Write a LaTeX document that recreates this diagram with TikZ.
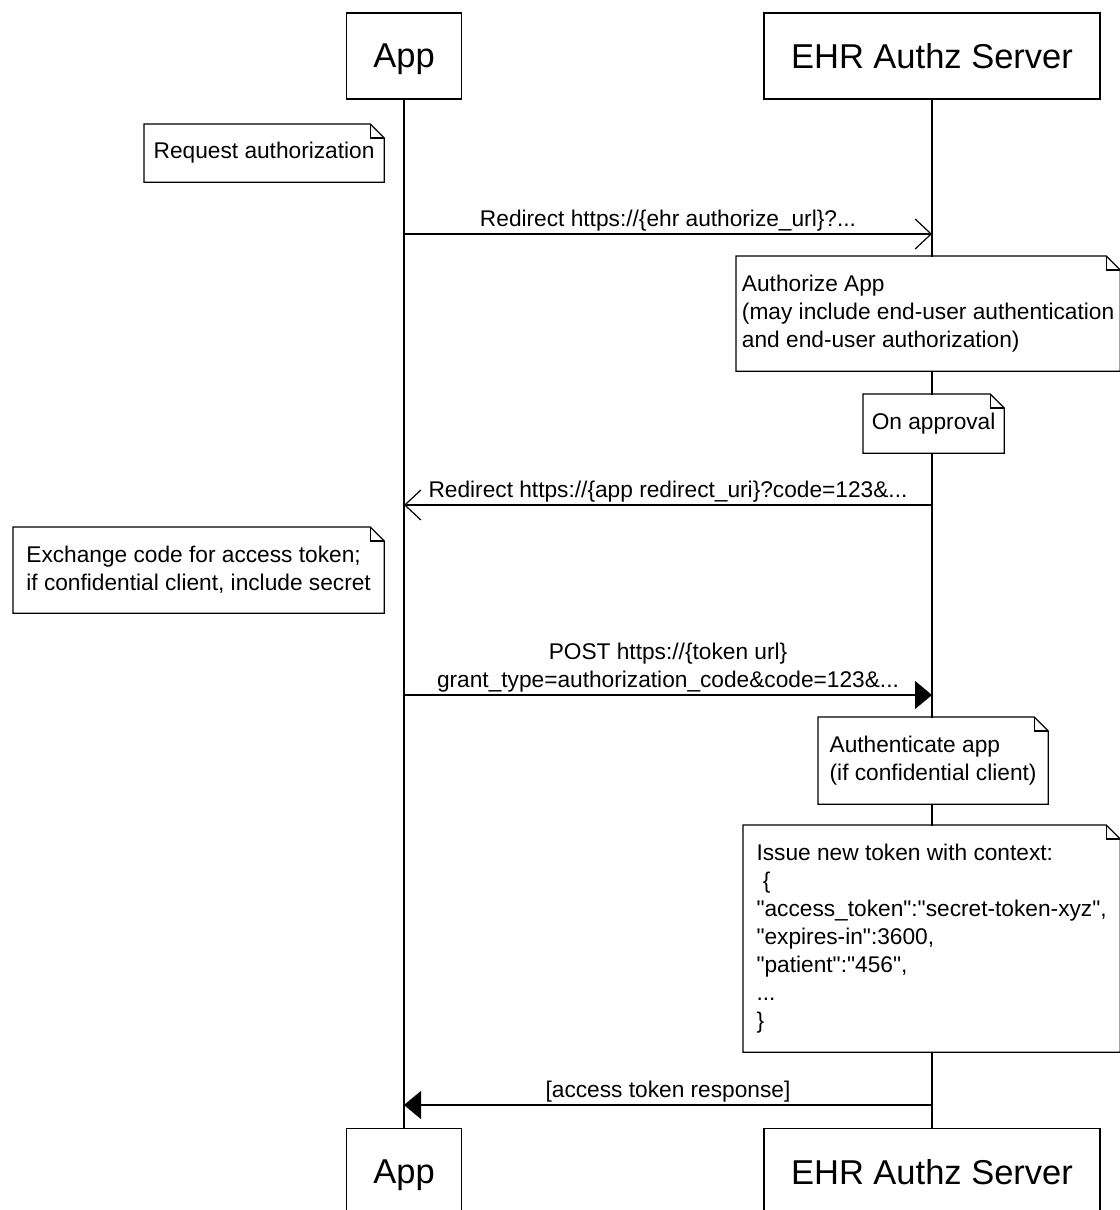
\documentclass[tikz,border=0pt]{standalone}
\usepackage{fontspec}
\setmainfont{Liberation Sans}
\usetikzlibrary{arrows.meta}

% folded corner of a note node
\newcommand{\dogear}[1]{%
  \draw (#1.north west) -- ([xshift=-14pt]#1.north east) -- ([yshift=-14pt]#1.north east) -- (#1.south east) -- (#1.south west) -- cycle;
  \draw ([xshift=-14pt]#1.north east) |- ([yshift=-14pt]#1.north east);}
\newcommand{\qq}{\textquotedbl{}}

\begin{document}
\begin{tikzpicture}[x=1pt, y=-1pt, line width=1.2pt,
  actor/.style = {draw, fill=white, minimum height=86pt, inner sep=0, text depth=0pt, font=\fontsize{34.5}{40}\selectfont},
  note/.style = {fill=white, anchor=north west, align=left, inner xsep=3pt, font=\fontsize{22.7}{28}\selectfont},
  msg/.style = {above, inner sep=2pt, align=center, font=\fontsize{22.7}{28}\selectfont},
  open/.style = {-{Straight Barb[length=16pt,width=30pt]}},
  full/.style = {-{Triangle[length=17pt,width=28pt]}}]
\useasboundingbox (0,0) rectangle (1119,1210);

\node[actor, minimum width=115pt] (appTop) at (404,56) {App};
\node[actor, minimum width=336pt] (ehrTop) at (932,56) {EHR Authz Server};
\node[actor, minimum width=115pt, anchor=north] (appBot) at (404,1128) {App};
\node[actor, minimum width=336pt, anchor=north] (ehrBot) at (932,1128) {EHR Authz Server};
\draw (appTop) -- (appBot);
\draw (ehrTop) -- (ehrBot);

\coordinate (m1) at (0,234);
\coordinate (m2) at (0,505);
\coordinate (m3) at (0,695);
\coordinate (m4) at (0,1105);

\node[note, minimum width=239pt, minimum height=57pt] (n1) at (144,124) {Request authorization}; \dogear{n1}
\draw[open] (appTop |- m1) -- node[msg] {Redirect https://\{ehr authorize\_url\}?...} (ehrTop |- m1);
\node[note, minimum width=383pt, minimum height=114pt] (n2) at (736,256) {Authorize App\\(may include end-user authentication\\and end-user authorization)}; \dogear{n2}
\node[note, minimum width=140pt, minimum height=58pt] (n3) at (863,394) {On approval}; \dogear{n3}
\draw[open] (ehrTop |- m2) -- node[msg] {Redirect https://\{app redirect\_uri\}?code=123\&...} (appTop |- m2);
\node[note, minimum width=370pt, minimum height=85pt] (n4) at (13,527) {Exchange code for access token;\\if confidential client, include secret}; \dogear{n4}
\draw[full] (appTop |- m3) -- node[msg] {POST https://\{token url\}\\grant\_type=authorization\_code\&code=123\&...} (ehrTop |- m3);
\node[note, minimum width=229pt, minimum height=86pt] (n5) at (818,717) {Authenticate app\\(if confidential client)}; \dogear{n5}
\node[note, minimum width=376pt, minimum height=226pt] (n6) at (743,825) {Issue new token with context:\\\ \{\\\qq access\_token\qq:\qq secret-token-xyz\qq,\\\qq expires-in\qq:3600,\\\qq patient\qq:\qq 456\qq,\\...\\\}}; \dogear{n6}
\draw[full] (ehrTop |- m4) -- node[msg] {[access token response]} (appTop |- m4);
\end{tikzpicture}
\end{document}
